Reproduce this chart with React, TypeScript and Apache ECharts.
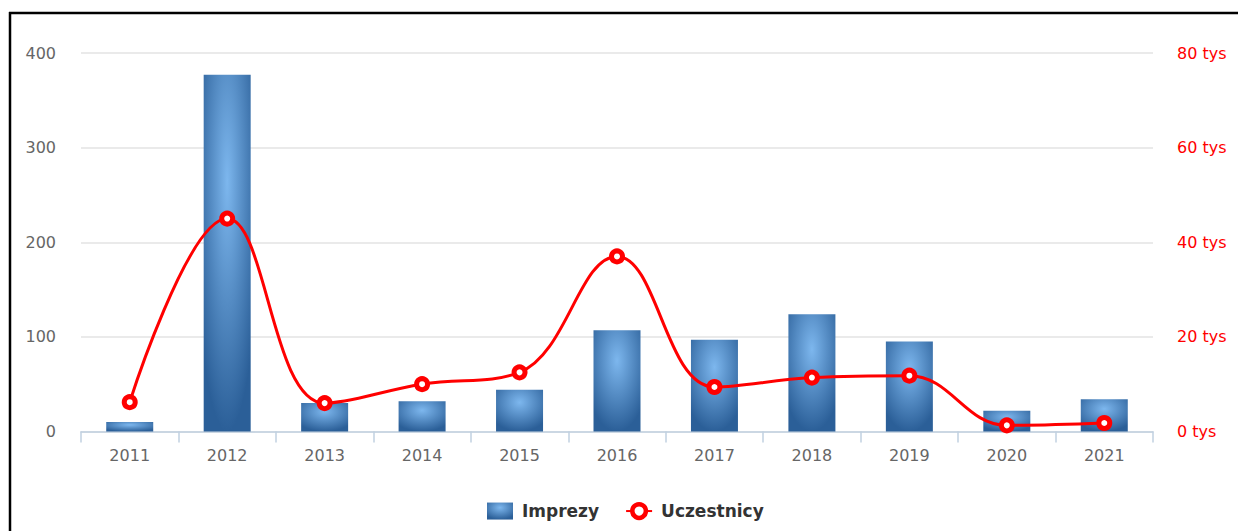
import React, { useEffect, useRef } from "react";
import * as echarts from "echarts";

const years = ["2011", "2012", "2013", "2014", "2015", "2016", "2017", "2018", "2019", "2020", "2021"];
const imprezy = [10, 377, 30, 32, 44, 107, 97, 124, 95, 22, 34];
const uczestnicy = [6200, 45000, 6000, 10000, 12500, 37000, 9400, 11400, 11800, 1300, 1800];
const leftTicks = { min: 0, max: 400, interval: 100 };
const rightTicks = { min: 0, max: 80000, interval: 20000 };

const FONT = "'DejaVu Sans', Verdana, sans-serif";

export default function App() {
  const ref = useRef<HTMLDivElement>(null);
  useEffect(() => {
    if (!ref.current) return;
    const chart = echarts.init(ref.current, undefined, { renderer: "svg" });
    const barGrad = new echarts.graphic.RadialGradient(0.5, 0.3, 0.7, [
      { offset: 0, color: "#7db7ee" },
      { offset: 1, color: "#2b5f98" },
    ]);
    chart.setOption({
      animation: false,
      backgroundColor: "#ffffff",
      textStyle: { fontFamily: FONT },
      graphic: [
        { type: "line", shape: { x1: 9, y1: 13, x2: 1238, y2: 13 }, style: { stroke: "#000", lineWidth: 2.5 } },
        { type: "line", shape: { x1: 10, y1: 12, x2: 10, y2: 531 }, style: { stroke: "#000", lineWidth: 2.5 } },
      ],
      grid: { left: 81, right: 85, top: 53, bottom: 99.5, containLabel: false },
      legend: {
        left: 482,
        top: 497,
        itemWidth: 26,
        itemHeight: 17,
        itemGap: 26,
        textStyle: {
          fontFamily: FONT,
          fontSize: 17,
          fontWeight: "bold",
          color: "#333",
          padding: [0, 0, 0, 4],
        },
        data: [
          { name: "Imprezy", icon: "rect" },
          { name: "Uczestnicy", itemStyle: { borderWidth: 4.5 } },
        ],
      },
      xAxis: {
        type: "category",
        data: years,
        boundaryGap: true,
        axisLine: { show: true, lineStyle: { color: "#C0D0E0", width: 1.5 } },
        axisTick: { show: true, length: 11, alignWithLabel: false, lineStyle: { color: "#C0D0E0", width: 1.5 } },
        axisLabel: { color: "#666", fontSize: 16, fontFamily: FONT, margin: 16 },
      },
      yAxis: [
        {
          type: "value",
          ...leftTicks,
          position: "left",
          axisLine: { show: false },
          axisTick: { show: false },
          axisLabel: { color: "#666", fontSize: 16, fontFamily: FONT, margin: 25 },
          splitLine: { show: true, lineStyle: { color: "#e3e3e3", width: 1.5 } },
        },
        {
          type: "value",
          ...rightTicks,
          position: "right",
          axisLine: { show: false },
          axisTick: { show: false },
          axisLabel: {
            color: "#ff0000",
            fontSize: 16,
            fontFamily: FONT,
            margin: 24,
            formatter: (v: number) => `${v / 1000} tys`,
          },
          splitLine: { show: false },
        },
      ],
      series: [
        {
          name: "Imprezy",
          type: "bar",
          yAxisIndex: 0,
          data: imprezy,
          barWidth: 47,
          itemStyle: { color: barGrad },
        },
        {
          name: "Uczestnicy",
          type: "line",
          yAxisIndex: 1,
          data: uczestnicy,
          smooth: 0.4,
          symbol: "circle",
          symbolSize: 11,
          showAllSymbol: true,
          lineStyle: { color: "#ff0000", width: 3 },
          itemStyle: { color: "#ffffff", borderColor: "#ff0000", borderWidth: 5 },
        },
      ],
    });
    return () => chart.dispose();
  }, []);
  return (
    <div
      ref={ref}
      style={{ position: "fixed", left: 0, top: 0, width: 1238, height: 531, background: "#fff" }}
    />
  );
}
